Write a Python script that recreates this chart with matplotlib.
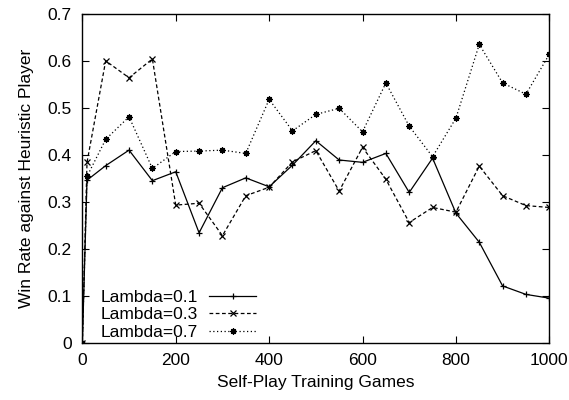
import matplotlib
matplotlib.use("Agg")
import matplotlib.pyplot as plt

plt.rcParams['font.family'] = ['Liberation Sans', 'DejaVu Sans']

games = [0, 10, 50, 100, 150, 200, 250, 300, 350, 400, 450, 500,
         550, 600, 650, 700, 750, 800, 850, 900, 950, 1000]
lambda_01 = [0.0, 0.347, 0.378, 0.411, 0.346, 0.365, 0.235, 0.331, 0.352, 0.333, 0.379, 0.431,
             0.390, 0.385, 0.404, 0.321, 0.394, 0.277, 0.215, 0.122, 0.104, 0.096]
lambda_03 = [0.0, 0.385, 0.601, 0.565, 0.605, 0.294, 0.298, 0.229, 0.314, 0.332, 0.386, 0.410,
             0.324, 0.417, 0.349, 0.257, 0.289, 0.279, 0.377, 0.314, 0.293, 0.289]
lambda_07 = [0.0, 0.355, 0.434, 0.482, 0.372, 0.408, 0.409, 0.411, 0.404, 0.519, 0.452, 0.487,
             0.500, 0.450, 0.554, 0.462, 0.397, 0.479, 0.636, 0.554, 0.530, 0.615]
series_labels = ["Lambda=0.1", "Lambda=0.3", "Lambda=0.7"]
x_ticks = [0, 200, 400, 600, 800, 1000]
y_ticks = [0, 0.1, 0.2, 0.3, 0.4, 0.5, 0.6, 0.7]

FS = 12.5

fig = plt.figure(figsize=(5.69, 4.0), dpi=100)
ax = fig.add_axes([0.1447, 0.1418, 0.8207, 0.8224])

lw = 0.9
ax.plot(games, lambda_01, color='black', linestyle='-', linewidth=lw,
        marker='+', markersize=5, markeredgewidth=0.9, label=series_labels[0])
ax.plot(games, lambda_03, color='black', linestyle=(0, (3, 2)), linewidth=lw,
        marker='x', markersize=4.2, markeredgewidth=0.9, label=series_labels[1])
ax.plot(games, lambda_07, color='black', linestyle=(0, (1, 2)), linewidth=lw,
        marker=(8, 2, 0), markersize=4.5, markeredgewidth=0.9, label=series_labels[2])

ax.set_xlim(0, 1000)
ax.set_ylim(0, 0.7)
ax.set_xticks(x_ticks)
ax.set_yticks(y_ticks)
ax.set_xticklabels([str(t) for t in x_ticks])
ax.set_yticklabels(['0' if t == 0 else f"{t:.1f}" for t in y_ticks])
ax.tick_params(direction='in', top=True, right=True, length=5, width=0.8,
               labelsize=FS, colors='black')
ax.tick_params(axis='x', pad=7)
ax.tick_params(axis='y', pad=7.5)
for s in ax.spines.values():
    s.set_linewidth(1.0)
    s.set_color('black')

ax.set_xlabel("Self-Play Training Games", fontsize=FS, labelpad=5)
ax.set_ylabel("Win Rate against Heuristic Player", fontsize=FS, labelpad=10)

leg = ax.legend(loc='lower left', bbox_to_anchor=(0.017, -0.022), frameon=False,
                markerfirst=False, fontsize=FS, handlelength=2.7, handletextpad=0.65,
                labelspacing=0.15, borderaxespad=0.2)

fig.savefig("out.png", dpi=100)
